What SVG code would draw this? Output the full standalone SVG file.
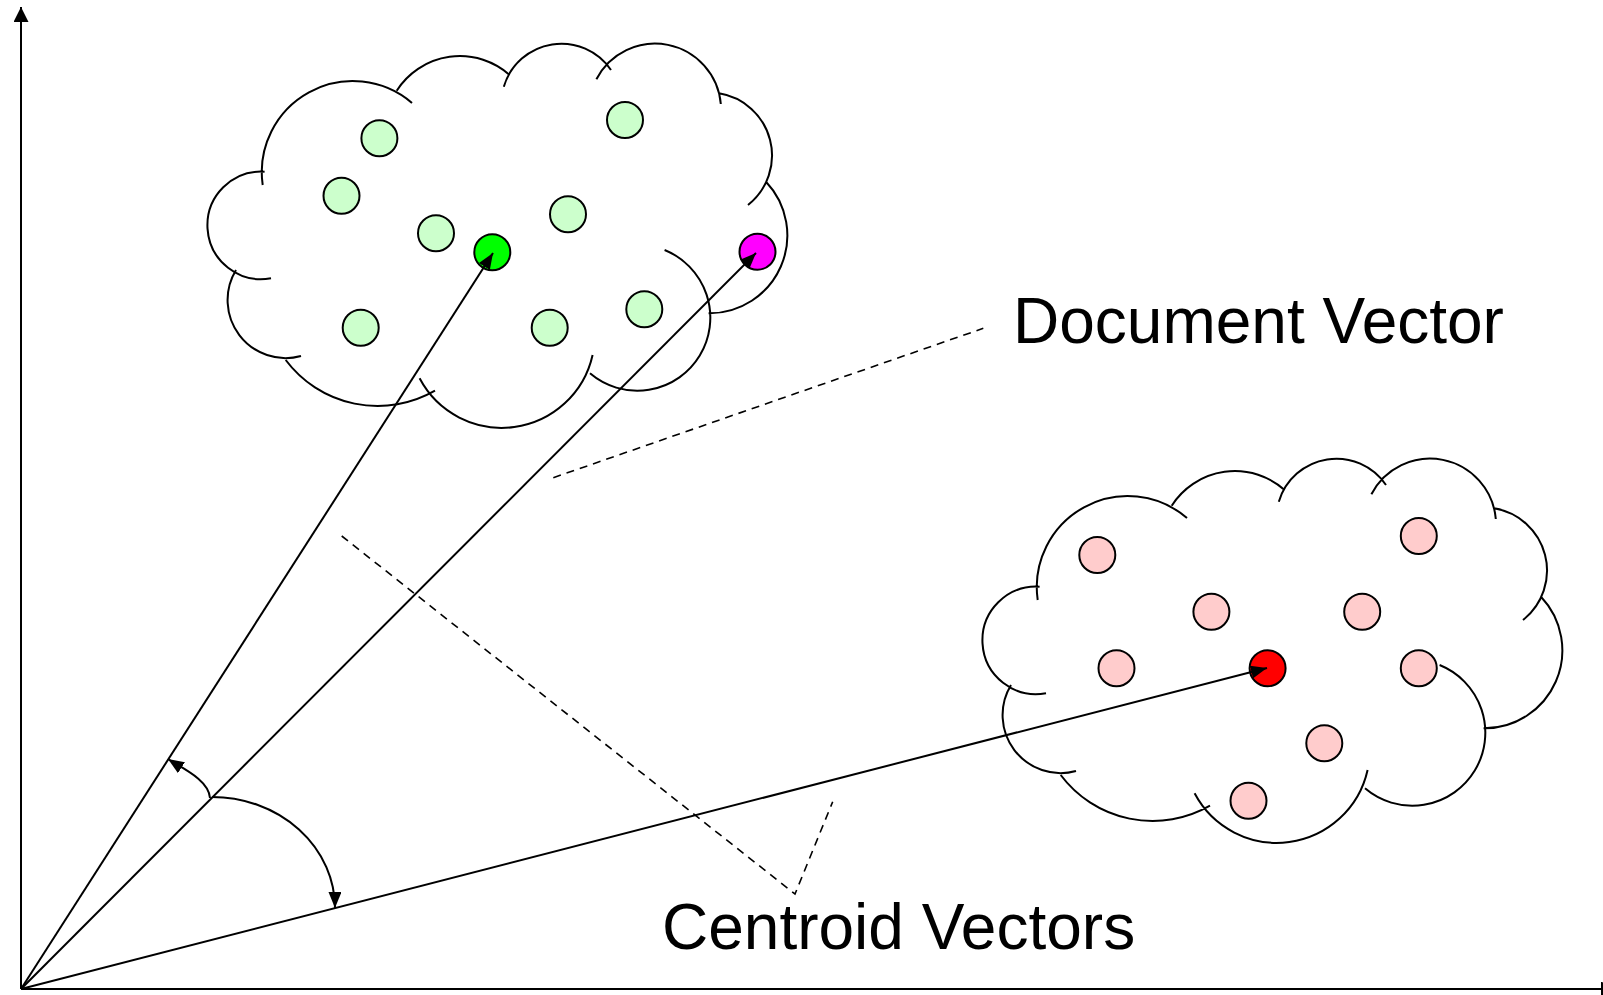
<svg xmlns="http://www.w3.org/2000/svg" width="1603" height="995" viewBox="0 0 1603 995">
<defs>
<style>
.cl{fill:none;stroke:#000;stroke-width:2}
.dot{stroke:#000;stroke-width:2}
.lg{fill:#CCFFCC}
.lr{fill:#FFCCCC}
.ln{fill:none;stroke:#000;stroke-width:2}
.ds{fill:none;stroke:#000;stroke-width:1.6;stroke-dasharray:8 6}
.lbl{font-family:"Liberation Sans",Arial,sans-serif;font-size:64px;fill:#000}
</style>
<marker id="ah" viewBox="0 0 15 15" refX="15" refY="7.5" markerWidth="15" markerHeight="15" markerUnits="userSpaceOnUse" orient="auto">
<path d="M0,0 L15,7.5 L0,15 z" fill="#000"/>
</marker>
<marker id="as" viewBox="0 0 16 13" refX="16" refY="6.5" markerWidth="16" markerHeight="13" markerUnits="userSpaceOnUse" orient="auto">
<path d="M0,0 L16,6.5 L0,13 z" fill="#000"/>
</marker>
<path id="cloud" class="cl" d="M262.7,185 A91,91 0 0 1 412,103 M396.7,90.7 A75,75 0 0 1 509.6,75 M503.8,86.7 A60,60 0 0 1 611,70 M596.4,79.3 A66,66 0 0 1 720.8,104 M719,93.3 A63,63 0 0 1 748,205 M766,181.7 A78,78 0 0 1 708.6,313.3 M664.6,250 A73,73 0 1 1 590,373.3 M592.6,355 A93,93 0 0 1 419.6,378.3 M435,390.7 A115,115 0 0 1 285.7,360 M301,356 A58,58 0 0 1 236,270 M271,278.3 A53.8,53.8 0 1 1 264.6,171.7"/>
</defs>
<rect width="1603" height="995" fill="#fff"/>
<g id="cloud-green">
<use href="#cloud"/>
</g>
<g id="cloud-red">
<use href="#cloud" transform="translate(775,415)"/>
</g>
<g id="green-points">
<circle class="dot lg" cx="379.4" cy="138.3" r="18"/>
<circle class="dot lg" cx="341.5" cy="195.7" r="18"/>
<circle class="dot lg" cx="436" cy="233.3" r="18"/>
<circle class="dot lg" cx="568" cy="214.3" r="18"/>
<circle class="dot lg" cx="625" cy="120" r="18"/>
<circle class="dot lg" cx="360.7" cy="327.7" r="18"/>
<circle class="dot lg" cx="549.7" cy="327.7" r="18"/>
<circle class="dot lg" cx="644.3" cy="309.3" r="18"/>
</g>
<g id="green-centroid"><circle class="dot" fill="#00FF00" cx="492.3" cy="252.3" r="18"/></g>
<g id="document"><circle class="dot" fill="#FF00FF" cx="757.5" cy="251.7" r="18"/></g>
<g id="red-points">
<circle class="dot lr" cx="1097.3" cy="555" r="18"/>
<circle class="dot lr" cx="1418.8" cy="536" r="18"/>
<circle class="dot lr" cx="1211.4" cy="611.7" r="18"/>
<circle class="dot lr" cx="1362.2" cy="611.7" r="18"/>
<circle class="dot lr" cx="1116.5" cy="668.3" r="18"/>
<circle class="dot lr" cx="1418.8" cy="668.3" r="18"/>
<circle class="dot lr" cx="1324.3" cy="743.3" r="18"/>
<circle class="dot lr" cx="1248.5" cy="800.7" r="18"/>
</g>
<g id="red-centroid"><circle class="dot" fill="#FF0000" cx="1267.6" cy="668.3" r="18"/></g>
<g id="connectors">
<line class="ln" x1="21" y1="989" x2="21" y2="7" marker-end="url(#ah)"/>
<line class="ln" x1="21" y1="989" x2="1616" y2="989" marker-end="url(#ah)"/>
<line class="ln" x1="21" y1="989" x2="493" y2="253" marker-end="url(#as)"/>
<line class="ln" x1="21" y1="989" x2="756" y2="253" marker-end="url(#as)"/>
<line class="ln" x1="21" y1="989" x2="1267" y2="668" marker-end="url(#as)"/>
<path class="ln" d="M210,798 C209,780 182,768 168,759" marker-end="url(#as)"/>
<path class="ln" d="M212,797 A123,111 0 0 1 335,908" marker-end="url(#as)"/>
<line class="ds" x1="553.3" y1="477.7" x2="983.3" y2="328.3"/>
<polyline class="ds" points="341.7,536 795,894 832.7,801.7"/>
</g>
<g id="label-document"><text class="lbl" x="1013" y="343">Document Vector</text></g>
<g id="label-centroid"><text class="lbl" x="662" y="949">Centroid Vectors</text></g>
</svg>
